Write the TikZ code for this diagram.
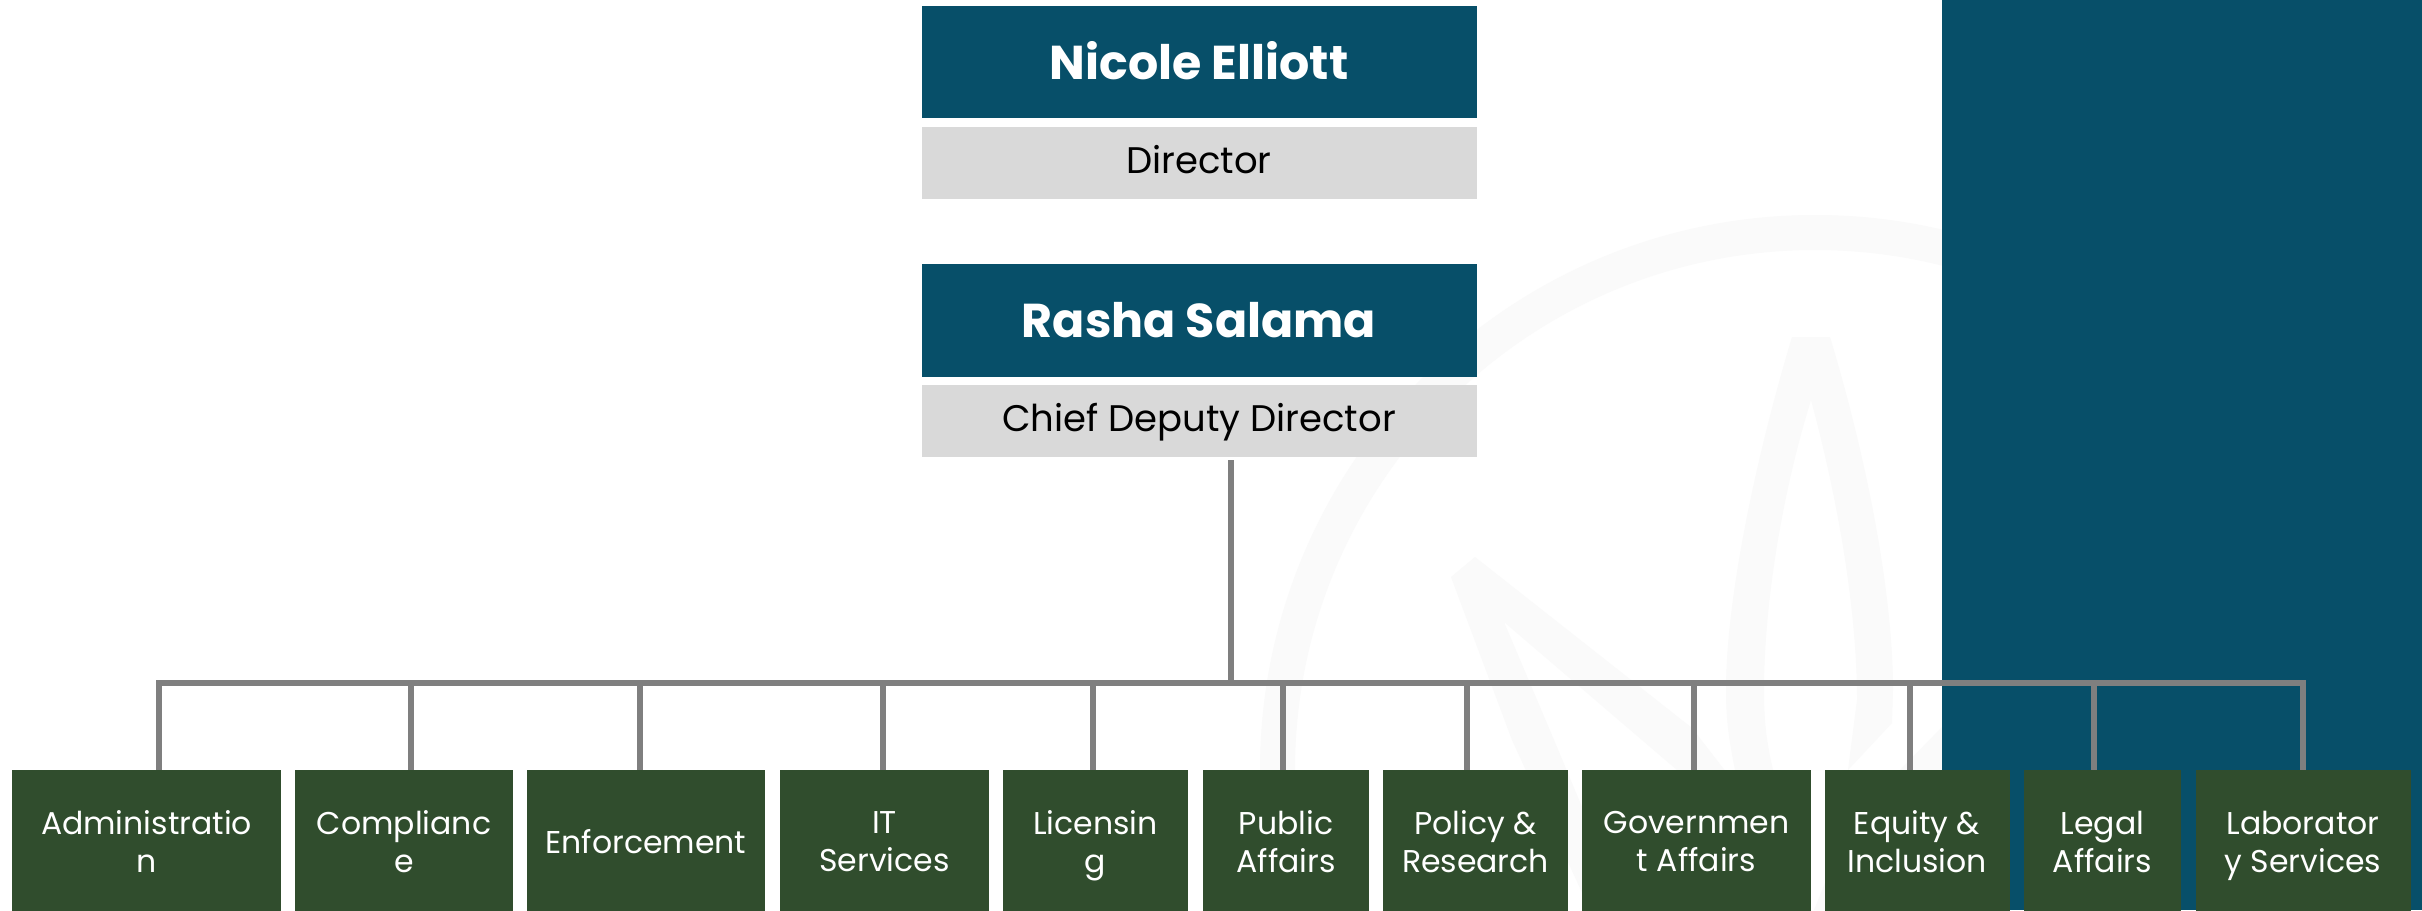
\documentclass[tikz,border=0pt]{standalone}
\usepackage{fontspec}
\setmainfont{Poppins}
\usetikzlibrary{positioning}

\definecolor{panelblue}{HTML}{074F69}
\definecolor{deptgreen}{HTML}{304D2D}
\definecolor{titlegray}{HTML}{D9D9D9}
\definecolor{linkgray}{HTML}{7F7F7F}
\definecolor{markgray}{HTML}{FAFAFA}

\tikzset{
	evenline/.style={execute at begin node=\rule{0pt}{#1}, execute at end node=\vphantom{g}},
	namebox/.style={fill=panelblue, text=white, minimum width=555pt, minimum height=112.5pt, inner sep=0pt, evenline=48pt,
		font=\fontsize{47.5}{54}\selectfont\bfseries},
	titlebox/.style={fill=titlegray, text=black, minimum width=555pt, minimum height=72pt, inner sep=0pt, evenline=31pt,
		font=\fontsize{37}{42}\selectfont},
	deptbox/.style={fill=deptgreen, text=white, minimum height=152pt, inner sep=0pt, align=center, evenline=24pt,
		font=\fontsize{31.5}{38}\selectfont},
	link/.style={draw=linkgray, line width=6pt},
}

\begin{document}
\begin{tikzpicture}[x=1pt,y=-1pt]
	\useasboundingbox (0,0) rectangle (2422,910);
	\clip (0,0) rectangle (2422,910);
	\fill[white] (0,0) rectangle (2422,910);
	% watermark
	\fill[markgray, even odd rule] (1815,770) circle (555) (1815,770) circle (520);
	\fill[markgray, even odd rule] (1792,337)--(1830,337) .. controls (1870,470) and (1893,600) .. (1893,690)
		--(1892,723)--(1848,770)--(1735,770) .. controls (1729,740) and (1726,720) .. (1726,690)
		.. controls (1726,600) and (1755,460) .. (1792,337)--cycle
		(1811,400) .. controls (1838,500) and (1857,610) .. (1857,700)--(1848,770)--(1773,770)
		.. controls (1766,740) and (1764,720) .. (1764,690) .. controls (1764,610) and (1780,500) .. (1811,400)--cycle;
	\fill[markgray, even odd rule] (1475,557)--(1692,728)--(1740,790)--(1740,910)--(1590,910)--(1512,740)--(1451,577)--cycle
		(1504,622)--(1677,770)--(1690,910)--(1625,910)--(1554,740)--cycle;
	\fill[markgray] (1942,727)--(1900,770)--(1825,883)--(1814,910)--(1942,910)--cycle;
	\fill[panelblue] (1942,0) rectangle (2422,910);
	% people
	\node[namebox] (nicole) at (1199,62) {Nicole Elliott};
	\node[titlebox] (nicoletitle) at (1199,163) {Director};
	\node[namebox] (rasha) at (1199,320.5) {Rasha Salama};
	\node[titlebox] (rashatitle) at (1199,421) {Chief Deputy Director};
	% departments
	\node[deptbox, minimum width=269pt] (admin) at (146.5,846) {Administratio\\n};
	\node[deptbox, minimum width=218pt] (compliance) at (404,846) {Complianc\\e};
	\node[deptbox, minimum width=238pt] (enforce) at (646,846) {Enforcement};
	\node[deptbox, minimum width=209pt] (itserv) at (884.5,846) {IT\\Services};
	\node[deptbox, minimum width=185pt] (licensing) at (1095.5,846) {Licensin\\g};
	\node[deptbox, minimum width=166pt] (public) at (1286,846) {Public\\Affairs};
	\node[deptbox, minimum width=185pt] (policy) at (1475.5,846) {Policy \&\\Research};
	\node[deptbox, minimum width=229pt] (govern) at (1696.5,846) {Governmen\\t Affairs};
	\node[deptbox, minimum width=185pt] (equity) at (1917,846) {Equity \&\\Inclusion};
	\node[deptbox, minimum width=157pt] (legal) at (2102.5,846) {Legal\\Affairs};
	\node[deptbox, minimum width=215pt] (lab) at (2303,846) {Laborator\\y Services};
	% links
	\coordinate (hub) at (1231,683);
	\coordinate (busleft) at (159,683);
	\coordinate (busright) at (2303,683);
	\draw[link] (rashatitle.south)++(32,3)--(hub);
	\draw[link, line cap=rect] (busleft)--(busright);
	\draw[link] (busleft)--(admin.north -| busleft);
	\draw[link] (compliance.north)++(7,0)--++(0,-87);
	\draw[link] (enforce.north)++(-6,0)--++(0,-87);
	\draw[link] (itserv.north)++(-1.5,0)--++(0,-87);
	\draw[link] (licensing.north)++(-2.5,0)--++(0,-87);
	\draw[link] (public.north)++(-3,0)--++(0,-87);
	\draw[link] (policy.north)++(-8.5,0)--++(0,-87);
	\draw[link] (govern.north)++(-2.5,0)--++(0,-87);
	\draw[link] (equity.north)++(-7,0)--++(0,-87);
	\draw[link] (legal.north)++(-8.5,0)--++(0,-87);
	\draw[link] (busright)--(lab.north -| busright);
\end{tikzpicture}
\end{document}
